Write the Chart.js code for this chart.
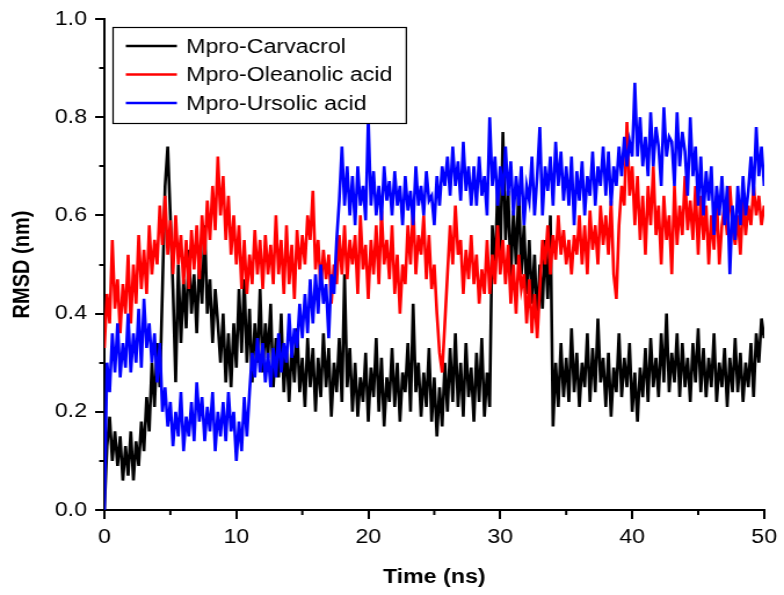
<!DOCTYPE html>
<html>
<head>
<meta charset="utf-8">
<script src="https://cdn.jsdelivr.net/npm/chart.js@4.4.1/dist/chart.umd.min.js"></script>
<style>
  html, body { margin: 0; background: #fff; overflow: hidden; }
  /* the original figure is a little stretched sideways */
  #wrap { width: 676px; height: 595px; transform: scaleX(1.15976); transform-origin: 0 0; }
  canvas { display: block; }
</style>
</head>
<body>
<div id="wrap"><canvas id="rmsdChart" width="676" height="595"></canvas></div>
<script>
// sampling interval of the traces (ns)
let step = 0.2;

let seriesNames = ['Mpro-Carvacrol', 'Mpro-Oleanolic acid', 'Mpro-Ursolic acid'];
let colorHex = ['#000000', '#ff0000', '#0000ff'];

let yTicks = [0, 0.2, 0.4, 0.6, 0.8, 1.0];
let xTicks = [0, 10, 20, 30, 40, 50];
let yMinor = [0.1, 0.3, 0.5, 0.7, 0.9];
let xMinor = [5, 15, 25, 35, 45];

// one row = 1 ns
let carvacrol = [
  0.00,0.13,0.19,0.10,0.16,  0.09,0.15,0.06,0.13,0.07,  0.16,0.06,0.14,0.09,0.18,  0.12,0.23,0.16,0.30,0.21,  0.34,0.25,0.45,0.66,0.74,
  0.60,0.45,0.26,0.50,0.34,  0.47,0.37,0.53,0.40,0.48,  0.36,0.51,0.42,0.58,0.40,  0.47,0.34,0.45,0.38,0.30,  0.40,0.26,0.36,0.25,0.38,
  0.29,0.45,0.32,0.47,0.30,  0.41,0.26,0.38,0.30,0.45,  0.28,0.38,0.31,0.42,0.25,  0.35,0.27,0.40,0.24,0.33,  0.22,0.34,0.26,0.37,0.24,
  0.31,0.21,0.35,0.25,0.33,  0.20,0.31,0.23,0.36,0.25,  0.33,0.19,0.30,0.24,0.35,  0.22,0.48,0.25,0.33,0.20,  0.30,0.19,0.27,0.22,0.32,
  0.18,0.29,0.23,0.35,0.20,  0.31,0.17,0.27,0.22,0.33,  0.21,0.30,0.18,0.28,0.24,  0.34,0.20,0.42,0.24,0.30,  0.19,0.28,0.21,0.33,0.18,
  0.27,0.15,0.25,0.17,0.30,  0.20,0.33,0.22,0.36,0.21,  0.30,0.19,0.34,0.23,0.29,  0.18,0.32,0.22,0.35,0.19,  0.28,0.21,0.58,0.48,0.66,
  0.50,0.77,0.55,0.65,0.47,  0.61,0.50,0.66,0.48,0.58,  0.44,0.55,0.42,0.52,0.38,  0.50,0.41,0.55,0.43,0.60,  0.17,0.30,0.21,0.34,0.23,
  0.31,0.22,0.37,0.24,0.32,  0.21,0.30,0.25,0.36,0.22,  0.33,0.24,0.39,0.26,0.31,  0.21,0.32,0.19,0.29,0.24,  0.36,0.23,0.31,0.25,0.34,
  0.20,0.28,0.18,0.29,0.23,  0.33,0.22,0.35,0.25,0.31,  0.23,0.36,0.26,0.40,0.24,  0.32,0.26,0.36,0.23,0.34,  0.25,0.31,0.22,0.34,0.26,
  0.37,0.24,0.33,0.23,0.31,  0.25,0.36,0.22,0.30,0.25,  0.33,0.21,0.31,0.24,0.35,  0.24,0.32,0.22,0.30,0.25,  0.34,0.23,0.36,0.30,0.39,
  0.35
];

let oleanolic = [
  0.33,0.44,0.38,0.55,0.41,  0.47,0.36,0.46,0.40,0.52,  0.38,0.50,0.42,0.56,0.45,  0.53,0.44,0.58,0.48,0.55,  0.50,0.62,0.54,0.64,0.52,
  0.59,0.48,0.60,0.50,0.56,  0.46,0.55,0.45,0.57,0.49,  0.58,0.47,0.60,0.52,0.63,  0.55,0.66,0.57,0.72,0.60,  0.68,0.55,0.64,0.52,0.60,
  0.50,0.58,0.45,0.55,0.44,  0.52,0.46,0.57,0.48,0.55,  0.45,0.56,0.48,0.54,0.46,  0.60,0.48,0.55,0.44,0.58,  0.46,0.54,0.43,0.57,0.49,
  0.56,0.50,0.60,0.55,0.65,  0.49,0.55,0.45,0.53,0.47,  0.52,0.42,0.50,0.46,0.56,  0.48,0.58,0.47,0.55,0.50,  0.56,0.44,0.60,0.49,0.54,
  0.43,0.55,0.48,0.58,0.46,  0.61,0.50,0.55,0.47,0.58,  0.44,0.52,0.40,0.50,0.46,  0.58,0.50,0.62,0.48,0.56,  0.52,0.60,0.47,0.56,0.45,
  0.50,0.40,0.32,0.28,0.38,  0.48,0.58,0.50,0.62,0.52,  0.55,0.44,0.53,0.47,0.56,  0.46,0.52,0.42,0.49,0.44,  0.55,0.44,0.52,0.46,0.58,
  0.48,0.55,0.46,0.54,0.42,  0.50,0.40,0.52,0.45,0.48,  0.38,0.47,0.36,0.44,0.35,  0.45,0.55,0.50,0.58,0.48,  0.56,0.51,0.60,0.52,0.57,
  0.50,0.55,0.48,0.56,0.52,  0.60,0.50,0.58,0.48,0.61,  0.53,0.58,0.50,0.62,0.54,  0.60,0.52,0.63,0.48,0.43,  0.58,0.66,0.62,0.79,0.64,
  0.70,0.58,0.68,0.55,0.64,  0.52,0.66,0.58,0.70,0.56,  0.62,0.50,0.64,0.55,0.60,  0.48,0.66,0.54,0.62,0.56,  0.68,0.57,0.63,0.55,0.66,
  0.52,0.64,0.55,0.62,0.50,  0.60,0.53,0.64,0.50,0.58,  0.62,0.56,0.66,0.58,0.54,  0.60,0.52,0.63,0.56,0.62,  0.58,0.66,0.60,0.64,0.58,
  0.62
];

let ursolic = [
  0.00,0.30,0.24,0.36,0.28,  0.38,0.27,0.34,0.29,0.40,  0.28,0.36,0.30,0.41,0.29,  0.43,0.33,0.38,0.30,0.36,  0.26,0.34,0.20,0.25,0.17,
  0.22,0.13,0.20,0.15,0.24,  0.12,0.19,0.15,0.22,0.14,  0.26,0.18,0.23,0.14,0.21,  0.16,0.24,0.12,0.20,0.15,  0.22,0.14,0.24,0.16,0.20,
  0.10,0.18,0.12,0.23,0.15,  0.24,0.32,0.27,0.35,0.28,  0.34,0.26,0.32,0.25,0.33,  0.27,0.36,0.28,0.34,0.30,  0.40,0.31,0.37,0.33,0.42,
  0.35,0.44,0.36,0.47,0.38,  0.48,0.40,0.50,0.42,0.46,  0.35,0.48,0.44,0.55,0.63,  0.74,0.62,0.70,0.60,0.68,  0.58,0.70,0.62,0.66,0.59,
  0.80,0.62,0.69,0.60,0.66,  0.59,0.70,0.63,0.67,0.60,  0.69,0.62,0.66,0.58,0.68,  0.61,0.65,0.58,0.70,0.62,  0.66,0.60,0.69,0.63,0.64,
  0.58,0.68,0.62,0.70,0.66,  0.72,0.64,0.74,0.66,0.71,  0.63,0.75,0.65,0.70,0.62,  0.70,0.62,0.72,0.64,0.68,  0.60,0.80,0.66,0.72,0.62,
  0.70,0.64,0.74,0.64,0.71,  0.60,0.68,0.62,0.70,0.58,  0.66,0.63,0.72,0.60,0.68,  0.78,0.60,0.70,0.65,0.72,  0.62,0.75,0.66,0.73,0.63,
  0.70,0.62,0.72,0.58,0.69,  0.63,0.71,0.60,0.68,0.64,  0.73,0.62,0.70,0.66,0.74,  0.64,0.73,0.62,0.70,0.66,  0.74,0.68,0.76,0.70,0.75,
  0.72,0.87,0.72,0.80,0.70,  0.76,0.68,0.81,0.70,0.78,  0.74,0.66,0.82,0.72,0.76,  0.75,0.66,0.81,0.70,0.77,  0.73,0.64,0.80,0.68,0.74,
  0.62,0.72,0.60,0.69,0.63,  0.70,0.56,0.66,0.60,0.68,  0.58,0.66,0.48,0.62,0.55,  0.66,0.58,0.68,0.60,0.65,  0.72,0.64,0.78,0.68,0.74,
  0.66
];

let fontFamily = "'Liberation Sans', Arial, sans-serif";

function toPoints(values) {
    return values.map((v, i) => ({ x: i * step, y: v }));
}

// minor ticks (shorter, unlabelled), placed through the scales
let minorTicks = {
    id: 'minorTicks',
    afterDraw(chart) {
        let c = chart.ctx;
        let xs = chart.scales.x, ys = chart.scales.y;
        c.save();
        c.strokeStyle = '#000';
        c.lineWidth = 2;
        c.beginPath();
        yMinor.forEach(v => {
            let py = Math.round(ys.getPixelForValue(v));
            c.moveTo(ys.right, py);
            c.lineTo(ys.right - 4.5, py);
        });
        xMinor.forEach(v => {
            let px = xs.getPixelForValue(v);
            c.moveTo(px, xs.top);
            c.lineTo(px, xs.top + 5);
        });
        c.stroke();
        c.restore();
    }
};

// boxed legend in the top-left corner of the plot
let boxLegend = {
    id: 'boxLegend',
    afterDraw(chart) {
        let c = chart.ctx;
        let area = chart.chartArea;
        let sets = chart.data.datasets;
        c.save();
        c.font = '20px ' + fontFamily;
        let maxW = 0;
        sets.forEach(d => { maxW = Math.max(maxW, c.measureText(d.label).width); });
        let x0 = area.left + 7.5, y0 = area.top + 8;
        let w = 63 + maxW + 12, h = 96;
        c.fillStyle = '#fff';
        c.fillRect(x0, y0, w, h);
        c.strokeStyle = '#000';
        c.lineWidth = 1.2;
        c.strokeRect(x0, y0 + 0.5, w, h);
        c.textBaseline = 'middle';
        sets.forEach((d, i) => {
            let cy = y0 + 19 + i * 28.5;
            c.strokeStyle = d.borderColor;
            c.lineWidth = 2.5;
            c.beginPath();
            c.moveTo(x0 + 11, cy);
            c.lineTo(x0 + 55, cy);
            c.stroke();
            c.fillStyle = '#000';
            c.fillText(d.label, x0 + 63, cy + 1);
        });
        c.restore();
    }
};

let ctx = document.getElementById('rmsdChart').getContext('2d');

let rmsdChart = new Chart(ctx, {
    type: 'line',
    data: {
        datasets: [{
            label: seriesNames[0],
            data: toPoints(carvacrol),
            borderColor: colorHex[0],
            order: 3
        }, {
            label: seriesNames[1],
            data: toPoints(oleanolic),
            borderColor: colorHex[1],
            order: 2
        }, {
            label: seriesNames[2],
            data: toPoints(ursolic),
            borderColor: colorHex[2],
            order: 1
        }]
    },
    options: {
        responsive: false,
        animation: false,
        layout: { padding: { top: 15, right: 15, left: 0, bottom: 0 } },
        elements: {
            point: { radius: 0 },
            line: { borderWidth: 2.6, tension: 0, borderJoinStyle: 'miter' }
        },
        plugins: {
            legend: { display: false },
            tooltip: { enabled: false }
        },
        scales: {
            x: {
                type: 'linear',
                min: 0,
                max: 50,
                afterFit: (scale) => { scale.height = 85; },
                afterBuildTicks: (scale) => { scale.ticks = xTicks.map(v => ({ value: v })); },
                ticks: {
                    color: '#000',
                    padding: 6,
                    maxRotation: 0,
                    font: { family: fontFamily, size: 20 }
                },
                grid: { drawOnChartArea: false, drawTicks: true, tickLength: 9, color: '#000', lineWidth: 2 },
                border: { display: true, color: '#000', width: 2 },
                title: {
                    display: true,
                    text: 'Time (ns)',
                    color: '#000',
                    padding: { top: 0, bottom: 6 },
                    font: { family: fontFamily, size: 20, weight: 'bold' }
                }
            },
            y: {
                min: 0,
                max: 1,
                afterFit: (scale) => { scale.width = 90; },
                afterBuildTicks: (scale) => { scale.ticks = yTicks.map(v => ({ value: v })); },
                ticks: {
                    color: '#000',
                    padding: 7,
                    font: { family: fontFamily, size: 20 },
                    callback: (value) => value.toFixed(1)
                },
                grid: { drawOnChartArea: false, drawTicks: true, tickLength: 8, color: '#000', lineWidth: 2 },
                border: { display: true, color: '#000', width: 2 },
                title: {
                    display: true,
                    text: 'RMSD (nm)',
                    color: '#000',
                    padding: { top: 7, bottom: 0 },
                    font: { family: fontFamily, size: 20, weight: 'bold' }
                }
            }
        }
    },
    plugins: [minorTicks, boxLegend]
});
</script>
</body>
</html>
